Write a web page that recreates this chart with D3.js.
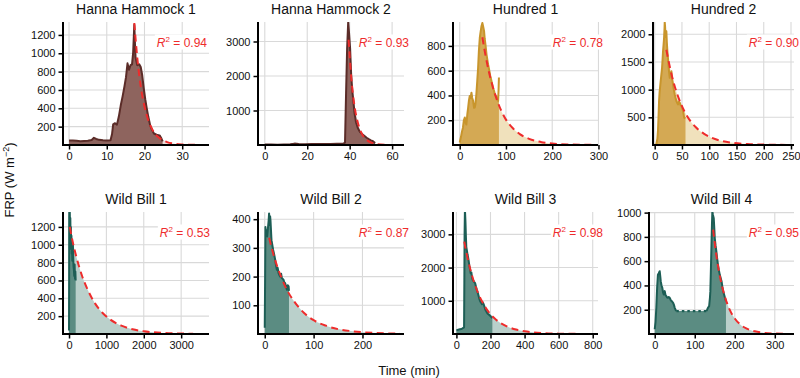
<!DOCTYPE html>
<html>
<head>
<meta charset="utf-8">
<script src="https://cdn.jsdelivr.net/npm/d3@7"></script>
<style>
  body { margin: 0; background: #fff; }
  svg { display: block; font-family: "Liberation Sans", Arial, Helvetica, sans-serif; }
</style>
</head>
<body>
<div id="chart"></div>
<script>
// Panel titles, site group and fit quality
const names = ["Hanna Hammock 1", "Hanna Hammock 2", "Hundred 1", "Hundred 2",
               "Wild Bill 1", "Wild Bill 2", "Wild Bill 3", "Wild Bill 4"];
const sites = ["hh", "hh", "hu", "hu", "wb", "wb", "wb", "wb"];
const r2 = ["0.94", "0.93", "0.78", "0.90", "0.53", "0.87", "0.98", "0.95"];

// Observed FRP, [time (min), FRP (W m-2)]
const hh1Obs = [[0,50],[1,48],[2,45],[3,42],[4,44],[5,46],[6,55],[6.6,78],[7.2,66],[8,56],[9,52],[10,50],[11,52],[11.4,120],
  [11.7,225],[12.2,238],[12.7,222],[13.2,310],[13.7,430],[14.2,530],[14.7,640],[15.1,740],[15.5,890],[15.9,820],[16.3,870],
  [16.7,880],[17.0,1010],[17.3,1310],[17.6,960],[18.1,870],[18.6,880],[19.0,850],[19.4,760],[19.8,620],[20.2,500],[20.6,400],
  [21.0,310],[21.5,215],[22.0,165],[22.5,125],[23.2,112],[24.0,105],[24.5,70],[24.8,40]];
const hh2Obs = [[0,15],[3,12],[6,10],[9,14],[12,20],[14,40],[16,28],[19,24],[22,26],[25,28],[28,30],[31,32],[34,36],[37,40],
  [37.8,70],[38.3,1500],[38.8,2800],[39.3,3560],[39.7,3250],[40.2,2800],[40.7,2050],[41.2,1600],[41.7,1300],[42.3,920],
  [43,660],[43.8,500],[44.8,380],[46,310],[47,260],[48,210],[49,170],[50,135],[51,110],[52,60]];
const hu1Obs = [[0,20],[3,70],[5,110],[7,140],[9,200],[11,222],[13,175],[14.5,165],[16.5,250],[18.2,300],[20,360],[21.7,396],
  [23.5,380],[25.4,422],[27,380],[29,356],[31,300],[32.5,302],[34,330],[36,409],[38,520],[39.8,623],[41.5,760],[43.4,864],
  [45,910],[47,958],[49,985],[51,950],[52.7,918],[54,860],[55.7,810],[58,730],[61.4,650],[64,600],[66,560],[68.7,516],
  [72,460],[74,440],[76,409],[79,390],[81,370],[83,356],[84,440],[84.8,545]];
const hu2Obs = [[0,5],[3,10],[5,120],[6,255],[7,500],[8,795],[9,950],[10.4,1094],[12,1250],[13.5,1394],[14.5,1550],
  [15.3,1694],[16.2,1800],[17.2,1933],[18,2100],[18.4,2220],[19,2150],[20,1950],[21.4,2054],[22.3,1850],[23.3,1694],
  [24.5,1550],[25.7,1394],[26.6,1300],[27.6,1214],[29,1280],[30.6,1334],[32,1200],[33.6,1094],[35,1000],[36.8,914],
  [38.3,850],[39.8,795],[41.3,760],[42.8,734],[44.4,780],[46,764],[47.5,720],[49,705],[50.5,660],[52,615],[53,560],
  [54,495],[56.5,480]];
const wb1Obs = [[0,40],[3,600],[5,1300],[10,1450],[15,1250],[20,1380],[28,1150],[35,1300],[42,1050],[50,1200],[58,950],
  [65,1100],[72,900],[80,1000],[88,820],[96,950],[104,1000],[112,880],[120,760],[130,720],[140,650],[150,780],[160,620],
  [170,700],[178,600]];
const wb2Obs = [[0,22],[0.8,200],[1.4,373],[2.5,350],[3.5,362],[5,340],[6.8,373],[8,395],[8.9,420],[10,380],[11,410],
  [11.7,397],[12.8,360],[13.8,327],[15.5,310],[17.2,293],[19,280],[21.4,258],[23,240],[24.8,224],[26.5,230],[28.3,212],
  [30,205],[31.6,200],[33.5,210],[35,195],[36.8,192],[38.4,189],[40,180],[41.9,177],[43.5,165],[45.4,154],[47,170],
  [48.8,166],[49.6,150]];
const wb3Obs = [[0,110],[10,130],[20,140],[30,150],[40,182],[45,200],[46.5,1500],[48,3000],[50,3750],[53,3400],[56,2900],
  [58,2625],[62,2500],[65,2400],[68,2326],[72,2200],[76,2050],[80,1950],[84,1830],[88,1850],[92,1700],[96,1629],[100,1600],
  [105,1560],[110,1530],[115,1420],[120,1329],[125,1250],[130,1150],[135,1050],[140,980],[145,940],[150,900],[155,950],
  [161,880],[166,800],[171,720],[176,680],[181,632],[186,600],[191,580],[196,560],[201,530],[206,500],[211,482]];
const wb4Obs = [[0,39],[2,100],[4,216],[6,380],[8,489],[10,500],[12.5,517],[14,470],[15,435],[17,400],[19,380],[21,340],
  [22.5,325],[25,353],[27,320],[29,312],[31,300],[33,298],[35,305],[37.5,298],[40,280],[42,271],[44,265],[46,257],[48,240],
  [50,216],[52,200],[54,189],[129,189],[131,200],[133,216],[136,230],[138,300],[139,353],[140.5,550],[142,763],[143,900],
  [144,1009],[145.5,980],[147.5,954],[149,860],[150,790],[152,730],[154,681],[156,620],[158,571],[160,530],[162.5,489],
  [165,460],[167,435],[169,390],[171,353],[173,330],[175.5,298],[178,271]];
const wb4Gap = [54, 129]; // stretch without detections, drawn dotted

// Fitted decay curves, [time (min), FRP]
const hh1Fit = [[17.3,1330],[18,990],[19,640],[20,420],[21,270],[22,175],[23,112],[24,75],[26,32],[28,14],[30,6],[32,2.5],[35,1]];
const hh2Fit = [[39.5,3050],[40.5,2130],[41.5,1490],[42.5,1040],[43.5,730],[44.5,510],[46,300],[48,150],[50,74],[53,25],[57,6],[62,1]];
const hu1Fit = [[49,870],[55,740],[62,610],[70,490],[80,370],[90,275],[100,205],[115,135],[130,88],[150,50],[175,25],[200,12],[240,4],[285,1]];
const hu2Fit = [[21.4,1720],[28,1400],[35,1120],[45,820],[55,600],[65,440],[75,325],[90,205],[105,128],[120,80],[140,43],[170,17],[200,7],[242,2]];
const wb1Fit = [[20,1200],[100,1030],[200,860],[350,650],[500,495],[700,340],[900,235],[1100,163],[1400,93],[1700,53],[2000,31],[2500,12],[3000,5],[3320,2.5]];
const wb2Fit = [[9,335],[15,294],[25,238],[35,193],[45,155],[60,114],[80,74],[100,48],[125,29],[150,17],[180,9.5],[220,4],[277,1.2]];
const wb3Fit = [[46,2780],[60,2420],[80,1980],[100,1620],[125,1260],[150,985],[175,765],[200,595],[225,465],[250,360],[300,220],[350,133],[400,81],[450,49],[500,30],[600,11],[700,4]];
const wb4Fit = [[146,860],[150,750],[155,625],[160,525],[165,440],[170,370],[180,260],[190,182],[200,128],[215,75],[230,44],[250,22],[275,9],[300,3.6],[330,1.2]];

// Tick values
const xTicks = [[0,10,20,30],[0,20,40,60],[0,100,200,300],[0,50,100,150,200,250],
                [0,1000,2000,3000],[0,100,200],[0,200,400,600,800],[0,100,200,300]];
const yTicks = [[200,400,600,800,1000,1200],[1000,2000,3000],[200,400,600,800],[500,1000,1500,2000],
                [200,400,600,800,1000,1200],[100,200,300,400],[1000,2000,3000],[200,400,600,800,1000]];

const obsSeries = [hh1Obs, hh2Obs, hu1Obs, hu2Obs, wb1Obs, wb2Obs, wb3Obs, wb4Obs];
const fitSeries = [hh1Fit, hh2Fit, hu1Fit, hu2Fit, wb1Fit, wb2Fit, wb3Fit, wb4Fit];
const gaps = [null, null, null, null, null, null, null, wb4Gap];

// Layout: plot boxes [left, right, top, bottom] and axis extents
const W = 800, H = 378;
const boxes = [[63,209,22,145],[258,404,22,145],[453,598,22,145],[653,794,22,145],
               [63,209,212,334],[258,404,212,334],[453,598,212,334],[649,794,212,334]];
const xDom = [[-1.6,37.1],[-3.2,65.6],[-14.5,299],[-3.1,255.5],[-161,3745],[-13.8,285],[-20,831],[-14.3,348]];
const yMax = [1341,3565,993,2222,1367,425,3673,1005];
const labelRight = [207,409,603,799,210,409,603,799];

const colors = {
  hh: { line: "#5b2c28", fill: "#8e645e", light: "#eddcd9" },
  hu: { line: "#c8952c", fill: "#d4a954", light: "#f0e1bc" },
  wb: { line: "#1d5e55", fill: "#5b8c82", light: "#bad0cb" }
};
const red = "#ee2c2c";
const fmt = d3.format("d");

const svg = d3.select("#chart").append("svg")
    .attr("width", W)
    .attr("height", H);

names.forEach((name, i) => {
  const [x0, x1, y0, y1] = boxes[i];
  const c = colors[sites[i]];
  const x = d3.scaleLinear().domain(xDom[i]).range([x0, x1]);
  const y = d3.scaleLinear().domain([0, yMax[i]]).range([y1, y0]);

  const g = svg.append("g");

  svg.append("clipPath").attr("id", "clip" + i)
    .append("rect").attr("x", x0).attr("y", y0).attr("width", x1 - x0).attr("height", y1 - y0);

  // grid
  g.append("g").selectAll("line").data(xTicks[i]).enter().append("line")
    .attr("x1", d => x(d)).attr("x2", d => x(d)).attr("y1", y0).attr("y2", y1)
    .attr("stroke", "#d9d9d9").attr("stroke-width", 1.1);
  g.append("g").selectAll("line").data(yTicks[i]).enter().append("line")
    .attr("x1", x0).attr("x2", x1).attr("y1", d => y(d)).attr("y2", d => y(d))
    .attr("stroke", "#d9d9d9").attr("stroke-width", 1.1);

  const plot = g.append("g").attr("clip-path", "url(#clip" + i + ")");

  const area = d3.area().x(d => x(d[0])).y0(y(0)).y1(d => y(d[1]));
  const line = d3.line().x(d => x(d[0])).y(d => y(d[1]));
  const smooth = d3.line().x(d => x(d[0])).y(d => y(d[1])).curve(d3.curveMonotoneX);
  const smoothArea = d3.area().x(d => x(d[0])).y0(y(0)).y1(d => y(d[1])).curve(d3.curveMonotoneX);

  // fitted area (light) and observed area (dark)
  plot.append("path").attr("d", smoothArea(fitSeries[i])).attr("fill", c.light);
  plot.append("path").attr("d", area(obsSeries[i])).attr("fill", c.fill);

  // observed line, dotted across gaps
  const obs = obsSeries[i];
  const gap = gaps[i];
  const parts = gap
    ? [obs.filter(d => d[0] <= gap[0]), obs.filter(d => d[0] >= gap[1])]
    : [obs];
  parts.forEach(p => {
    plot.append("path").attr("d", line(p)).attr("fill", "none")
      .attr("stroke", c.line).attr("stroke-width", 2).attr("stroke-linejoin", "round");
  });
  if (gap) {
    plot.append("path").attr("d", line(obs.filter(d => d[0] >= gap[0] && d[0] <= gap[1])))
      .attr("fill", "none").attr("stroke", c.line).attr("stroke-width", 2.2)
      .attr("stroke-dasharray", "2.5,3");
  }

  // fitted curve
  plot.append("path").attr("d", smooth(fitSeries[i])).attr("fill", "none")
    .attr("stroke", red).attr("stroke-width", 2).attr("stroke-dasharray", "7,4.5");

  // axes
  const xAxis = g.append("g").attr("transform", `translate(0,${y1})`)
    .call(d3.axisBottom(x).tickValues(xTicks[i]).tickFormat(fmt).tickSize(4.5).tickPadding(3).tickSizeOuter(0));
  const yAxis = g.append("g").attr("transform", `translate(${x0},0)`)
    .call(d3.axisLeft(y).tickValues(yTicks[i]).tickFormat(fmt).tickSize(4.5).tickPadding(3).tickSizeOuter(0));
  [xAxis, yAxis].forEach(a => {
    a.select(".domain").remove();
    a.selectAll(".tick line").attr("stroke", "#000").attr("stroke-width", 1.5);
    a.selectAll(".tick text").attr("fill", "#111").attr("font-size", 11)
      .attr("font-family", "'Liberation Sans', Arial, sans-serif");
  });
  g.append("line").attr("x1", x0).attr("x2", x1).attr("y1", y1).attr("y2", y1)
    .attr("stroke", "#000").attr("stroke-width", 2);
  g.append("line").attr("x1", x0).attr("x2", x0).attr("y1", y0).attr("y2", y1 + 1)
    .attr("stroke", "#000").attr("stroke-width", 2);

  // title
  g.append("text").attr("x", (x0 + x1) / 2).attr("y", y0 - 8.5)
    .attr("text-anchor", "middle").attr("font-size", 14).attr("fill", "#111").text(name);

  // R² label with white background
  const lab = g.append("g");
  const bg = lab.append("rect").attr("fill", "#fff");
  const t = lab.append("text").attr("x", labelRight[i]).attr("y", y0 + 24.5)
    .attr("text-anchor", "end").attr("font-size", 12).attr("fill", red);
  t.append("tspan").attr("font-style", "italic").text("R");
  t.append("tspan").attr("font-size", 8).attr("dy", -5).text("2");
  t.append("tspan").attr("dy", 5).text(" = " + r2[i]);
  const bb = t.node().getBBox();
  bg.attr("x", bb.x - 2).attr("y", bb.y).attr("width", bb.width + 4).attr("height", bb.height);
});

// shared axis titles
const yLab = svg.append("text")
    .attr("transform", "translate(14,180) rotate(-90)")
    .attr("text-anchor", "middle").attr("font-size", 13).attr("fill", "#111");
yLab.append("tspan").text("FRP (W m");
yLab.append("tspan").attr("font-size", 9).attr("dy", -5).text("\u22122");
yLab.append("tspan").attr("dy", 5).text(")");
svg.append("text")
    .attr("x", 409).attr("y", 375)
    .attr("text-anchor", "middle").attr("font-size", 13).attr("fill", "#111")
    .text("Time (min)");
</script>
</body>
</html>
